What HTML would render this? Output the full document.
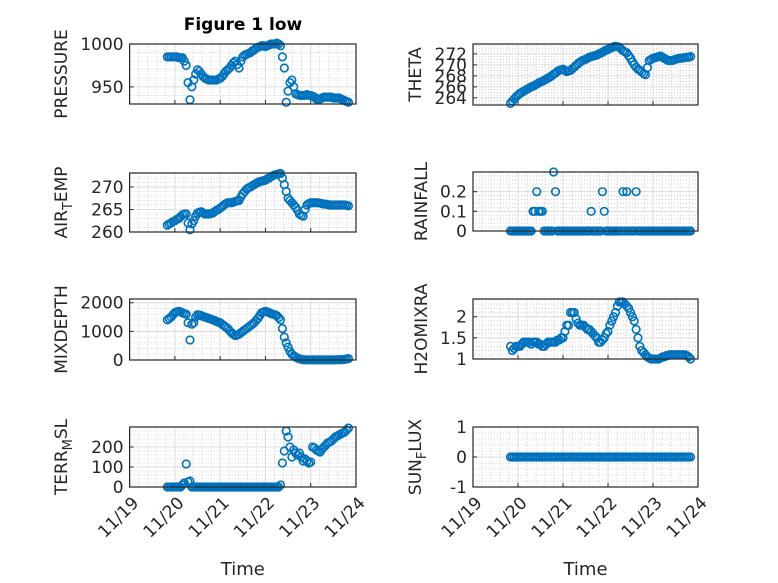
<!DOCTYPE html>
<html><head><meta charset="utf-8"><style>
html,body{margin:0;padding:0;background:#fff;}
svg{display:block;font-family:"DejaVu Sans","Liberation Sans",sans-serif;}
</style></head><body>
<svg id="fig" width="778" height="583" viewBox="0 0 778 583" xmlns="http://www.w3.org/2000/svg">
<rect x="0" y="0" width="778" height="583" fill="#fff"/>
<text x="243" y="30" text-anchor="middle" font-size="17" font-weight="bold" fill="#000">Figure 1 low</text>
</svg>
<script>
const hours = [20,21,22,23,24,25,26,27,28,29,30,31,32,33,34,35,36,37,38,39,40,41,42,43,44,45,46,47,48,49,50,51,52,53,54,55,56,57,58,59,60,61,62,63,64,65,66,67,68,69,70,71,72,73,74,75,76,77,78,79,80,81,82,83,84,85,86,87,88,89,90,91,92,93,94,95,96,97,98,99,100,101,102,103,104,105,106,107,108,109,110,111,112,113,114,115,116];
const xTickDays = [19,20,21,22,23,24];
const xTickLabels = ["11/19","11/20","11/21","11/22","11/23","11/24"];
const pressure = [985,985,985,985,985,985,984,984,984,980,
975,955,935,950,958,965,970,968,965,962,
960,959,958,958,958,958,958,959,960,962,
965,968,970,972,975,978,980,976,972,980,
985,987,988,989,990,992,993,995,996,997,
998,998,997,998,999,1000,1000,1000,1001,1000,
998,985,972,932,945,955,958,950,942,941,
940,940,940,940,941,940,940,939,938,936,
935,936,937,938,938,938,938,938,937,937,
937,937,936,935,934,933,932];
const airTemp = [261.5,261.8,262,262.3,262.5,262.8,263,263.4,263.8,264,
264,262,260.5,261.8,262.5,263.5,264.2,264.4,264.5,264.2,
264,264,264,264.1,264.2,264.5,264.8,265,265.3,265.6,
266,266.3,266.5,266.5,266.5,266.6,266.8,266.9,267,267.8,
268.5,269,269.5,269.8,270,270.3,270.5,270.8,271,271.2,
271.3,271.4,271.5,271.8,272,272.3,272.5,272.7,272.8,272.9,
273,272,270.5,269,267.5,267,266.5,266,265.5,264.8,
264,263.7,263.5,265,266,266.3,266.5,266.5,266.5,266.5,
266.5,266.4,266.3,266.2,266.2,266.1,266,266,266,266,
266,266,266,266,266,265.9,265.8];
const mixDepth = [1400,1450,1500,1580,1650,1680,1700,1680,1650,1620,
1600,1300,700,1250,1300,1500,1580,1570,1550,1520,
1500,1480,1450,1430,1400,1380,1350,1320,1300,1250,
1200,1150,1100,1020,950,900,850,870,900,950,
1000,1050,1100,1150,1200,1250,1300,1380,1450,1550,
1650,1680,1700,1680,1650,1620,1600,1580,1550,1480,
1400,1100,800,600,450,300,200,150,100,70,
40,20,10,8,5,5,5,5,5,5,
5,5,5,5,5,5,5,5,5,5,
8,10,10,15,20,35,50];
const terrMsl = [0,0,0,0,0,0,0,0,10,20,
115,25,30,0,0,0,0,0,0,0,
0,0,0,0,0,0,0,0,0,0,
0,0,0,0,0,0,0,0,0,0,
0,0,0,0,0,0,0,0,0,0,
0,0,0,0,0,0,0,0,0,0,
10,120,180,280,250,200,150,185,170,160,
170,150,130,140,130,120,125,200,195,185,
180,175,190,200,210,220,225,230,240,250,
255,260,265,270,275,285,295];
const theta = [263,263.4,263.8,264.2,264.5,264.8,265,265.2,265.4,265.6,
265.8,266,266.1,266.3,266.5,266.7,266.9,267,267.2,267.4,
267.6,267.8,268,268.3,268.5,268.8,269,269.1,269.2,269,
268.8,268.9,269,269.3,269.6,269.9,270.2,270.5,270.7,270.9,
271,271.2,271.4,271.5,271.6,271.7,271.8,272,272.1,272.3,
272.5,272.7,272.8,273,273.1,273.3,273.4,273.3,273.2,272.9,
272.6,272.4,272.2,271.7,271.2,270.6,270,269.6,269.2,269,
268.7,268.4,268.2,269.5,270.8,271,271.2,271.3,271.4,271.5,
271.6,271.4,271.2,271,270.8,270.8,270.8,270.9,271,271.1,
271.2,271.2,271.3,271.3,271.4,271.4,271.5];
const rainfall = [0,0,0,0,0,0,0,0,0,0,
0,0,0.1,0.1,0.2,0.1,0.1,0.1,0,0,
0,0,0,0.3,0.2,0,0,0,0,0,
0,0,0,0,0,0,0,0,0,0,
0,0,0,0.1,0,0,0,0,0,0.2,
0.1,0,0,0,0,0,0,0,0,0,
0.2,0,0.2,0,0,0,0,0.2,0,0,
0,0,0,0,0,0,0,0,0,0,
0,0,0,0,0,0,0,0,0,0,
0,0,0,0,0,0,0];
const h2oMixRatio = [1.3,1.2,1.25,1.3,1.3,1.3,1.35,1.4,1.4,1.4,
1.4,1.35,1.4,1.4,1.4,1.35,1.35,1.3,1.3,1.35,
1.4,1.4,1.4,1.4,1.4,1.45,1.45,1.5,1.5,1.65,
1.8,1.8,2.1,2.1,2.1,1.95,1.85,1.8,1.8,1.8,
1.75,1.7,1.7,1.65,1.6,1.55,1.5,1.4,1.4,1.45,
1.5,1.6,1.65,1.8,1.9,2.0,2.1,2.25,2.35,2.35,
2.35,2.3,2.25,2.2,2.1,2.0,1.9,1.7,1.5,1.3,
1.2,1.15,1.1,1.05,1.02,1.0,1.0,1.0,1.0,1.0,
1.02,1.05,1.05,1.08,1.08,1.1,1.1,1.1,1.1,1.1,
1.1,1.1,1.1,1.1,1.08,1.05,1.0];
const sunFlux = [0,0,0,0,0,0,0,0,0,0,
0,0,0,0,0,0,0,0,0,0,
0,0,0,0,0,0,0,0,0,0,
0,0,0,0,0,0,0,0,0,0,
0,0,0,0,0,0,0,0,0,0,
0,0,0,0,0,0,0,0,0,0,
0,0,0,0,0,0,0,0,0,0,
0,0,0,0,0,0,0,0,0,0,
0,0,0,0,0,0,0,0,0,0,
0,0,0,0,0,0,0];
const pressureTicks = [950,1000];
const airTicks = [260,265,270];
const mixTicks = [0,1000,2000];
const terrTicks = [0,100,200];
const thetaTicks = [264,266,268,270,272];
const rainTicks = [0,0.1,0.2];
const h2oTicks = [1,1.5,2];
const sunTicks = [-1,0,1];

const NS = "http://www.w3.org/2000/svg";
const svg = document.getElementById('fig');
function mk(tag, attrs, parent){
  const e = document.createElementNS(NS, tag);
  for (const k in attrs) e.setAttribute(k, attrs[k]);
  (parent||svg).appendChild(e);
  return e;
}
function panel(cfg){
  const {name,x0,x1,y0,y1,ymin,ymax,ticks,minorStep,vals,label,sub,labelRest,lx,bottom} = cfg;
  const g = mk('g',{});
  
  
  const X = d => x0 + (d-19)/(24-19)*(x1-x0);
  const Y = v => y1 - (v-ymin)/(ymax-ymin)*(y1-y0);
  for (let d=19; d<24.001; d+=0.2){
    const xx = X(d);
    const ln = mk('line',{x1:xx,x2:xx,y1:y0,y2:y1,stroke:'#c8c8c8','stroke-width':0.8,'stroke-dasharray':'1,2'},g);
    
    
  }
  for (let v=Math.ceil(ymin/minorStep)*minorStep; v<=ymax+1e-9; v+=minorStep){
    const yy = Y(v);
    const ln = mk('line',{x1:x0,x2:x1,y1:yy,y2:yy,stroke:'#c8c8c8','stroke-width':0.8,'stroke-dasharray':'1,2'},g);
    
    
  }
  xTickDays.forEach(d=>{
    const xx = X(d);
    const ln = mk('line',{x1:xx,x2:xx,y1:y0,y2:y1,stroke:'#dcdcdc','stroke-width':1},g);
    
    
  });
  ticks.forEach(v=>{
    const yy = Y(v);
    const ln = mk('line',{x1:x0,x2:x1,y1:yy,y2:yy,stroke:'#dcdcdc','stroke-width':1},g);
    
    
    const tk = mk('line',{x1:x0,x2:x0+4,y1:yy,y2:yy,stroke:'#262626','stroke-width':1},g);
    
    
    const t = mk('text',{x:x0-6,y:yy+6,'text-anchor':'end','font-size':17,fill:'#262626'},g);
    
    
    t.textContent = String(v);
  });
  xTickDays.forEach(d=>{
    const xx = X(d);
    const tk = mk('line',{x1:xx,x2:xx,y1:y1,y2:y1-4,stroke:'#262626','stroke-width':1},g);
    
    
  });
  vals.forEach((v,i)=>{
    const c = mk('circle',{cx:X(19 + hours[i]/24),cy:Y(v),r:3.8,fill:'none',stroke:'#0072BD','stroke-width':1.6},g);
    
    
  });
  const bx = mk('rect',{x:x0,y:y0,width:x1-x0,height:y1-y0,fill:'none',stroke:'#262626','stroke-width':1.2},g);
  
  
  const cy = (y0+y1)/2;
  const yl = mk('text',{x:0,y:0,'text-anchor':'middle','font-size':17,fill:'#262626',transform:`translate(${lx},${cy}) rotate(-90)`},g);
  
  
  if (sub){
    const a = mk('tspan',{},yl); a.textContent = label;
    const b = mk('tspan',{dy:5,'font-size':13},yl); b.textContent = sub;
    const c = mk('tspan',{dy:-5},yl); c.textContent = labelRest;
  } else yl.textContent = label;
  if (bottom){
    xTickDays.forEach((d,i)=>{
      const xx = X(d);
      const t = mk('text',{x:0,y:0,'text-anchor':'end','font-size':17,fill:'#262626',transform:`translate(${xx+10},${y1+17}) rotate(-45)`},g);
      
      
      t.textContent = xTickLabels[i];
    });
    const xl = mk('text',{x:(x0+x1)/2,y:575,'text-anchor':'middle','font-size':18,fill:'#262626'},g);
    
    
    xl.textContent = 'Time';
  }
}
const L0=129.6, L1=356, R0=473, R1=698;
panel({name:'pressure',x0:L0,x1:L1,y0:44,y1:104,ymin:930,ymax:1000,ticks:pressureTicks,minorStep:10,vals:pressure,label:'PRESSURE',lx:67,bottom:false});
panel({name:'air-temp',x0:L0,x1:L1,y0:173,y1:232,ymin:260,ymax:273.1,ticks:airTicks,minorStep:1,vals:airTemp,label:'AIR',sub:'T',labelRest:'EMP',lx:67,bottom:false});
panel({name:'mixdepth',x0:L0,x1:L1,y0:299,y1:360,ymin:0,ymax:2130,ticks:mixTicks,minorStep:200,vals:mixDepth,label:'MIXDEPTH',lx:67,bottom:false});
panel({name:'terr-msl',x0:L0,x1:L1,y0:427,y1:487,ymin:0,ymax:300,ticks:terrTicks,minorStep:20,vals:terrMsl,label:'TERR',sub:'M',labelRest:'SL',lx:67,bottom:true});
panel({name:'theta',x0:R0,x1:R1,y0:44,y1:105,ymin:262.7,ymax:273.8,ticks:thetaTicks,minorStep:0.5,vals:theta,label:'THETA',lx:421,bottom:false});
panel({name:'rainfall',x0:R0,x1:R1,y0:172,y1:231,ymin:0,ymax:0.3,ticks:rainTicks,minorStep:0.02,vals:rainfall,label:'RAINFALL',lx:427,bottom:false});
panel({name:'h2omixra',x0:R0,x1:R1,y0:299,y1:359,ymin:1,ymax:2.42,ticks:h2oTicks,minorStep:0.1,vals:h2oMixRatio,label:'H2OMIXRA',lx:427,bottom:false});
panel({name:'sun-flux',x0:R0,x1:R1,y0:427,y1:487,ymin:-1,ymax:1,ticks:sunTicks,minorStep:0.2,vals:sunFlux,label:'SUN',sub:'F',labelRest:'LUX',lx:421,bottom:true});
</script>
</body></html>
